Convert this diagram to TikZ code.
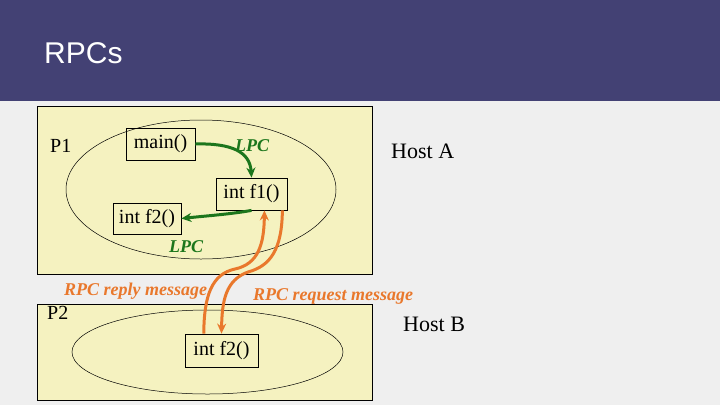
\documentclass[tikz,border=0pt]{standalone}
\usepackage{fontspec}
\setmainfont{Liberation Serif}
\newfontfamily\titlefont{Liberation Sans}
\usetikzlibrary{arrows.meta,calc}
\definecolor{barblue}{RGB}{67,65,116}
\definecolor{slidegrey}{RGB}{239,239,239}
\definecolor{hostfill}{RGB}{245,242,192}
\definecolor{lpcgreen}{RGB}{28,118,28}
\definecolor{rpcorange}{RGB}{233,120,44}

\begin{document}
\begin{tikzpicture}[x=1pt,y=-1pt,>={Stealth[length=10pt,width=9pt]},
   fnbox/.style={draw,line width=0.8pt,inner sep=0pt,font=\fontsize{20}{23}\selectfont},
   hostbox/.style={draw,line width=0.9pt,fill=hostfill},
   proc/.style={draw,line width=0.5pt},
   hostname/.style={anchor=base west,inner sep=0pt,font=\fontsize{22}{26}\selectfont},
   pname/.style={anchor=base west,inner sep=0pt,font=\fontsize{20}{23}\selectfont},
   lpc/.style={anchor=base west,inner sep=0pt,text=lpcgreen,font=\fontsize{18}{21}\selectfont\bfseries\itshape},
   rpc/.style={anchor=base west,inner sep=0pt,text=rpcorange,font=\fontsize{18}{21}\selectfont\bfseries\itshape},
   lpcarrow/.style={->,draw=lpcgreen,line width=3pt},
   rpcarrow/.style={->,draw=rpcorange,line width=3pt}]
  \useasboundingbox (0,0) rectangle (720,405);
  % slide background and title bar
  \fill[slidegrey] (0,0) rectangle (720,405);
  \fill[barblue] (0,0) rectangle (720,101);
  \node (title) [anchor=base west,inner sep=0pt,text=white,font=\titlefont\fontsize{30}{36}\selectfont] at (44,63) {RPCs};
  % hosts and processes
  \draw[hostbox] (37,106) rectangle (372,274);
  \draw[hostbox] (37,304) rectangle (372,400);
  \draw[proc] (201,189.5) ellipse [x radius=135, y radius=69.5];
  \draw[proc] (207.5,352) ellipse [x radius=135.5, y radius=42];
  \node (hosta) [hostname] at (391,158) {Host A};
  \node (hostb) [hostname] at (403,331) {Host B};
  \node (p1) [pname] at (50,152) {P1};
  \node (p2) [pname] at (47,319) {P2};
  % functions
  \node (main) [fnbox,minimum width=69pt,minimum height=32pt] at (160.5,144) {main()};
  \node (f1) [fnbox,minimum width=71pt,minimum height=32pt] at (251.5,194) {int f1()};
  \node (f2a) [fnbox,minimum width=68pt,minimum height=31pt] at (147,218.5) {int f2()};
  \node (f2b) [fnbox,minimum width=73pt,minimum height=33pt] at (221.5,350.5) {int f2()};
  % labels
  \node (lpc1) [lpc] at (235,151) {LPC};
  \node (lpc2) [lpc] at (169,252) {LPC};
  \node (reply) [rpc] at (64,295) {RPC reply message};
  \node (request) [rpc] at (253,300) {RPC request message};
  % local calls
  \draw[lpcarrow] (main.east) .. controls (232,143) and (250,152) .. (f1.north);
  \draw[lpcarrow] (f1.south) .. controls (232,214) and (205,216) .. (f2a.east);
  % remote call and reply
  \draw[rpcarrow] ($(f2b.north west)!0.26!(f2b.north east)$)
     .. controls (204,295) and (212,274) .. (235,269)
     .. controls (258,264) and (264,245) .. ($(f1.south west)!0.68!(f1.south east)$);
  \draw[rpcarrow] ($(f1.south west)!0.93!(f1.south east)$)
     .. controls (282,250) and (270,266) .. (248,272)
     .. controls (226,280) and (222,300) .. (f2b.north);
\end{tikzpicture}
\end{document}
